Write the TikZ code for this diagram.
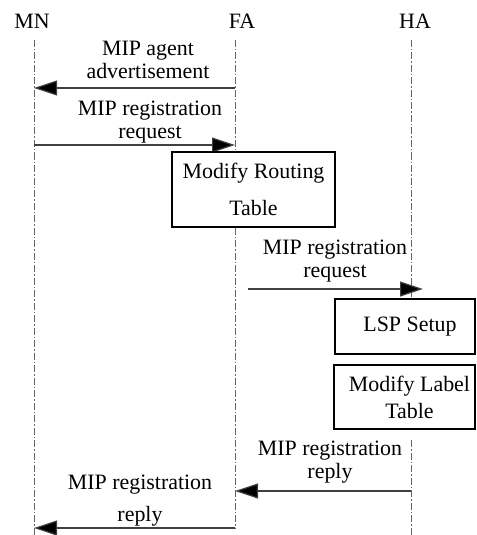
\documentclass[tikz,border=0pt]{standalone}
\usepackage{fontspec}
\setmainfont{Liberation Serif}
\usetikzlibrary{arrows.meta}
\begin{document}
\begin{tikzpicture}[x=1bp,y=-1bp,
  lbl/.style={font=\fontsize{22}{23}\selectfont, align=center, inner sep=0pt},
  hdr/.style={font=\fontsize{22}{23}\selectfont, inner sep=0pt},
  life/.style={draw=black!60, line width=0.9bp, dash pattern=on 7bp off 2bp on 1.5bp off 2bp},
  msg/.style={draw=black!75, line width=1.2bp, -{Triangle[length=23bp,width=15bp,fill=black]}},
  box/.style={draw=black, line width=2.8bp, fill=white, inner sep=0pt, align=center, font=\fontsize{22}{23}\selectfont},
]
\useasboundingbox (0,0) rectangle (477,535);
% headers
\node[hdr] (mn) at (32,21) {MN};
\node[hdr] (fa) at (242,21) {FA};
\node[hdr] (ha) at (415,21) {HA};
% lifeline ends
\coordinate (mnT) at (34,40);  \coordinate (mnB) at (34,535);
\coordinate (faT) at (235,40); \coordinate (faB) at (235,528);
\coordinate (haT) at (411,40); \coordinate (haM) at (411,299);
\coordinate (haR) at (411,440); \coordinate (haB) at (411,535);
\draw[life] (mnT) -- (mnB);
\draw[life] (faT) -- (faB);
\draw[life] (haT) -- (haM);
\draw[life] (haR) -- (haB);
% message 1
\node[lbl] (l1) at (148,60) {MIP agent\\advertisement};
\coordinate (fa1) at (235,88); \coordinate (mn1) at (34,88);
\draw[msg] (fa1) -- (mn1);
% message 2
\node[lbl] (l2) at (150,122) {MIP registration\\request};
\coordinate (mn2) at (34,145); \coordinate (fa2) at (235,145);
\draw[msg] (mn2) -- (fa2);
% box 1
\node[box, minimum width=163bp, minimum height=75bp] (b1) at (253.5,189.5) {Modify Routing\\[14bp]Table};
% message 3
\node[lbl] (l3) at (335,261) {MIP registration\\request};
\coordinate (fa3) at (248,289); \coordinate (ha3) at (423,289);
\draw[msg] (fa3) -- (ha3);
% box 2
\node[box, minimum width=140bp, minimum height=55bp] (b2) at (405,326.5) {\hspace*{10bp}LSP Setup};
% box 3
\node[box, minimum width=141bp, minimum height=64bp] (b3) at (404.5,397) {\hspace*{10bp}Modify Label\\[4bp]\hspace*{10bp}Table};
% message 4
\node[lbl] (l4) at (330,462) {MIP registration\\reply};
\coordinate (ha4) at (411,491); \coordinate (fa4) at (235,491);
\draw[msg] (ha4) -- (fa4);
% message 5
\node[lbl] (l5) at (140,501) {MIP registration\\[9bp]reply};
\coordinate (fa5) at (235,528); \coordinate (mn5) at (34,528);
\draw[msg] (fa5) -- (mn5);
\end{tikzpicture}
\end{document}
